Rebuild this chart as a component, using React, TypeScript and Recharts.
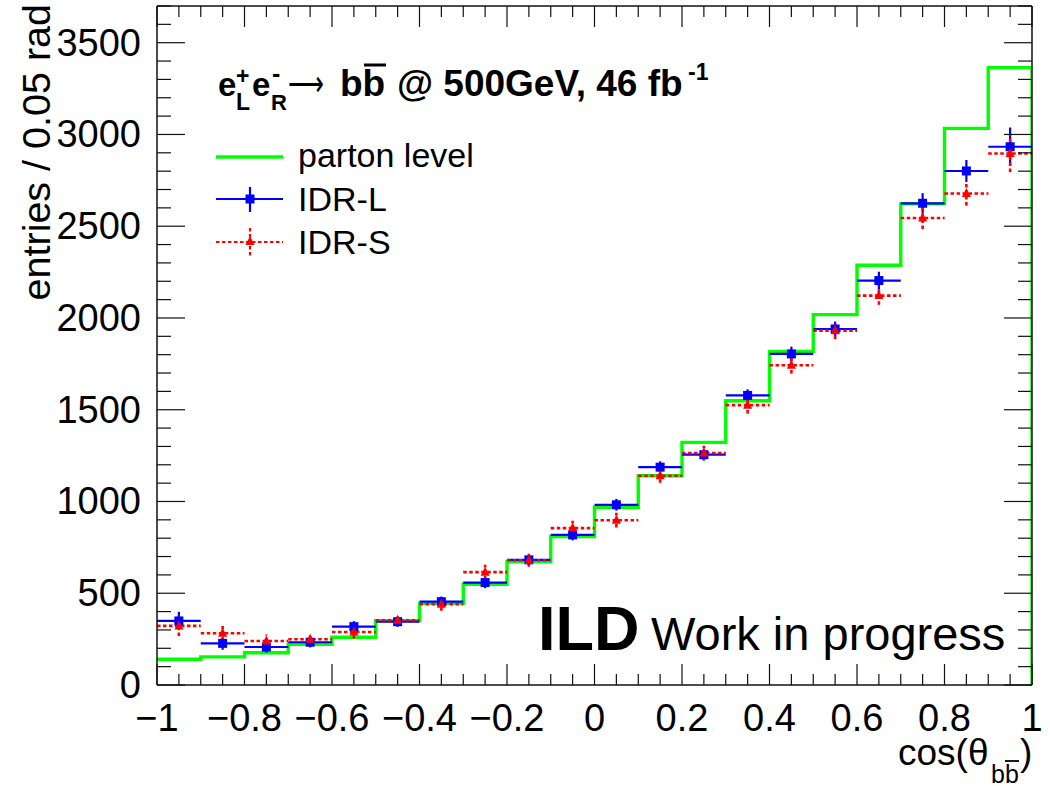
import React from "react";
import { ComposedChart, Line, Scatter, ErrorBar, XAxis, YAxis } from "recharts";

// Bin centres of cos(theta_bb) in 0.1 wide bins
const binCenters = [-0.95, -0.85, -0.75, -0.65, -0.55, -0.45, -0.35, -0.25, -0.15, -0.05,
  0.05, 0.15, 0.25, 0.35, 0.45, 0.55, 0.65, 0.75, 0.85, 0.95];
const binLowEdges = [-1, -0.9, -0.8, -0.7, -0.6, -0.5, -0.4, -0.3, -0.2, -0.1,
  0, 0.1, 0.2, 0.3, 0.4, 0.5, 0.6, 0.7, 0.8, 0.9];
const halfBinWidth = 0.05;

// Generator-level histogram
const partonLevel = [140, 153, 176, 222, 260, 351, 445, 549, 673, 809,
  969, 1140, 1322, 1549, 1818, 2018, 2287, 2622, 3033, 3364];

// Reconstructed, IDR-L detector model
const idrL = [349, 227, 207, 233, 318, 345, 454, 558, 682, 818,
  982, 1187, 1255, 1578, 1804, 1940, 2204, 2625, 2801, 2933];
const idrLErr = [50, 35, 30, 28, 30, 28, 28, 30, 30, 30,
  32, 32, 30, 33, 40, 40, 48, 55, 60, 105];

// Reconstructed, IDR-S detector model
const idrS = [322, 282, 240, 249, 289, 353, 440, 615, 680, 855,
  898, 1140, 1264, 1525, 1742, 1931, 2122, 2545, 2678, 2896];
const idrSErr = [55, 45, 35, 33, 35, 33, 35, 40, 35, 40,
  40, 38, 40, 45, 45, 45, 50, 60, 65, 100];

const xMajorLabels = ["\u22121", "\u22120.8", "\u22120.6", "\u22120.4", "\u22120.2", "0",
  "0.2", "0.4", "0.6", "0.8", "1"];
const yMajorLabels = ["0", "500", "1000", "1500", "2000", "2500", "3000", "3500"];

const X_MIN = -1;
const X_MAX = 1;
const Y_MAX = 3700;

const FONT = "'Liberation Sans', Arial, Helvetica, sans-serif";

// Step outline: one point per low edge, closing at the upper edge and dropping to zero
const histPoints = [
  ...binLowEdges.map((x, i) => ({ x, y: partonLevel[i] })),
  { x: X_MAX, y: partonLevel[partonLevel.length - 1] },
  { x: X_MAX, y: 0 },
];

const idrLPoints = binCenters.map((x, i) => ({ x, y: idrL[i], ex: halfBinWidth, ey: idrLErr[i] }));
const idrSPoints = binCenters.map((x, i) => ({ x, y: idrS[i], ex: halfBinWidth, ey: idrSErr[i] }));

// Tick positions: minor every 0.05 in x, every 100 in y
const xTicks = Array.from({ length: 41 }, (_, i) => Math.round((X_MIN + i * 0.05) * 100) / 100);
const yTicks = Array.from({ length: 38 }, (_, i) => i * 100);

const isMajorX = (v: number) => Math.abs(v * 5 - Math.round(v * 5)) < 1e-6;
const isMajorY = (v: number) => v % 500 === 0;

const AXIS_COLOR = "#111";

const BottomTick = (props: any) => {
  const { x, y, payload } = props;
  const v = payload.value as number;
  const major = isMajorX(v);
  const idx = Math.round((v - X_MIN) * 5);
  return (
    <g>
      <line x1={x} x2={x} y1={y} y2={y - (major ? 21 : 11)} stroke={AXIS_COLOR} strokeWidth={1.2} />
      {major && (
        <text x={x} y={y + 46} textAnchor="middle" fontSize={38} fontFamily={FONT} fill="#000">
          {xMajorLabels[idx]}
        </text>
      )}
    </g>
  );
};

const TopTick = (props: any) => {
  const { x, y, payload } = props;
  const major = isMajorX(payload.value);
  return <line x1={x} x2={x} y1={y} y2={y + (major ? 21 : 11)} stroke={AXIS_COLOR} strokeWidth={1.2} />;
};

const LeftTick = (props: any) => {
  const { x, y, payload } = props;
  const v = payload.value as number;
  const major = isMajorY(v);
  return (
    <g>
      <line x1={x} x2={x + (major ? 28 : 14)} y1={y} y2={y} stroke={AXIS_COLOR} strokeWidth={1.2} />
      {major && (
        <text x={x - 16} y={y + 13} textAnchor="end" fontSize={38} fontFamily={FONT} fill="#000">
          {yMajorLabels[v / 500]}
        </text>
      )}
    </g>
  );
};

const RightTick = (props: any) => {
  const { x, y, payload } = props;
  const major = isMajorY(payload.value);
  return <line x1={x} x2={x - (major ? 28 : 14)} y1={y} y2={y} stroke={AXIS_COLOR} strokeWidth={1.2} />;
};

const SquareMarker = (props: any) => {
  const { cx, cy } = props;
  return <rect x={cx - 4.5} y={cy - 4.5} width={9} height={9} fill="#0000ff" />;
};

const TriangleMarker = (props: any) => {
  const { cx, cy } = props;
  return <polygon points={`${cx},${cy - 5.5} ${cx - 4.5},${cy + 3.5} ${cx + 4.5},${cy + 3.5}`} fill="#ff0000" />;
};

const RED_DASH = "3.5 2.5";

const axisCommon = {
  type: "number" as const,
  allowDataOverflow: true,
  interval: 0 as const,
  tickSize: 0,
  tickMargin: 0,
  tickLine: false,
  axisLine: { stroke: AXIS_COLOR, strokeWidth: 1.5 },
};

export default function App() {
  return (
    <div style={{ position: "absolute", left: 0, top: 0, width: 1050, height: 786, background: "#fff" }}>
      <ComposedChart
        width={1050}
        height={786}
        margin={{ top: 5, right: 17, bottom: 100, left: 156 }}
      >
        <XAxis {...axisCommon} xAxisId="x" dataKey="x" domain={[X_MIN, X_MAX]} ticks={xTicks}
          height={1} tick={BottomTick} />
        <XAxis {...axisCommon} xAxisId="xt" dataKey="x" orientation="top" domain={[X_MIN, X_MAX]}
          ticks={xTicks} height={1} tick={TopTick} />
        <YAxis {...axisCommon} yAxisId="y" domain={[0, Y_MAX]} ticks={yTicks} width={1} tick={LeftTick} />
        <YAxis {...axisCommon} yAxisId="yr" orientation="right" domain={[0, Y_MAX]} ticks={yTicks}
          width={1} tick={RightTick} />

        <Line
          xAxisId="x"
          yAxisId="y"
          data={histPoints}
          dataKey="y"
          type="stepAfter"
          stroke="#00ff00"
          strokeWidth={3.4}
          dot={false}
          activeDot={false}
          isAnimationActive={false}
        />
        {/* keep the top/right frame axes bound to data */}
        <Line
          xAxisId="xt"
          yAxisId="yr"
          data={histPoints}
          dataKey="y"
          stroke="none"
          dot={false}
          activeDot={false}
          isAnimationActive={false}
        />

        <Scatter
          xAxisId="x"
          yAxisId="y"
          data={idrLPoints}
          dataKey="y"
          shape={SquareMarker}
          isAnimationActive={false}
        >
          <ErrorBar dataKey="ex" direction="x" width={0} stroke="#0000ff" strokeWidth={2.2} />
          <ErrorBar dataKey="ey" direction="y" width={0} stroke="#0000ff" strokeWidth={2.2} />
        </Scatter>

        <Scatter
          xAxisId="x"
          yAxisId="y"
          data={idrSPoints}
          dataKey="y"
          shape={TriangleMarker}
          isAnimationActive={false}
        >
          <ErrorBar dataKey="ex" direction="x" width={0} stroke="#ff0000" strokeWidth={2.6} strokeDasharray={RED_DASH} />
          <ErrorBar dataKey="ey" direction="y" width={0} stroke="#ff0000" strokeWidth={2.6} strokeDasharray={RED_DASH} />
        </Scatter>
      </ComposedChart>

      <svg
        width={1050}
        height={786}
        style={{ position: "absolute", left: 0, top: 0, pointerEvents: "none" }}
        fontFamily={FONT}
      >
        {/* axis titles */}
        <text x={50} y={4} transform="rotate(-90 50 4)" textAnchor="end" fontSize={39.5} fill="#000">
          entries / 0.05 rad
        </text>
        <text x={898} y={765} fontSize={37} fill="#000">cos(θ</text>
        <text x={991} y={783} fontSize={25} fill="#000">bb</text>
        <line x1={1005} x2={1019} y1={761} y2={761} stroke="#000" strokeWidth={1.8} />
        <text x={1020} y={765} fontSize={37} fill="#000">)</text>

        {/* process label */}
        <g fontWeight="bold" fill="#000">
          <text x={218} y={96} fontSize={33}>e</text>
          <text x={236} y={84} fontSize={23}>+</text>
          <text x={236} y={110} fontSize={23}>L</text>
          <text x={252} y={96} fontSize={33}>e</text>
          <text x={272} y={82} fontSize={25}>-</text>
          <text x={271} y={110} fontSize={22}>R</text>
          <text x={288} y={96} fontSize={36} fontWeight="normal" fontFamily="'DejaVu Sans', sans-serif"
            textLength={36} lengthAdjust="spacingAndGlyphs">⟶</text>
          <text x={340} y={96} fontSize={37}>bb</text>
          <line x1={364} x2={386} y1={65} y2={65} stroke="#000" strokeWidth={3} />
          <text x={397} y={96} fontSize={37}>@ 500GeV, 46 fb</text>
          <text x={688} y={80} fontSize={23}>-1</text>
        </g>

        {/* legend */}
        <line x1={216} x2={283} y1={157} y2={157} stroke="#00ff00" strokeWidth={3.4} />
        <text x={298} y={167} fontSize={34} fill="#000">parton level</text>

        <line x1={216} x2={283} y1={199} y2={199} stroke="#0000ff" strokeWidth={2.2} />
        <line x1={250} x2={250} y1={187} y2={212} stroke="#0000ff" strokeWidth={2.2} />
        <rect x={245.5} y={194.5} width={9} height={9} fill="#0000ff" />
        <text x={298} y={211} fontSize={34} fill="#000">IDR-L</text>

        <line x1={216} x2={283} y1={242} y2={242} stroke="#ff0000" strokeWidth={2.2} strokeDasharray={RED_DASH} />
        <line x1={250} x2={250} y1={228} y2={256} stroke="#ff0000" strokeWidth={2.2} strokeDasharray={RED_DASH} />
        <polygon points="250,236 245.5,245 254.5,245" fill="#ff0000" />
        <text x={298} y={254} fontSize={34} fill="#000">IDR-S</text>

        {/* experiment tag */}
        <text x={538} y={650} fontSize={63} fontWeight="bold" fill="#000">ILD</text>
        <text x={651} y={650} fontSize={47} fill="#000">Work in progress</text>
      </svg>
    </div>
  );
}
